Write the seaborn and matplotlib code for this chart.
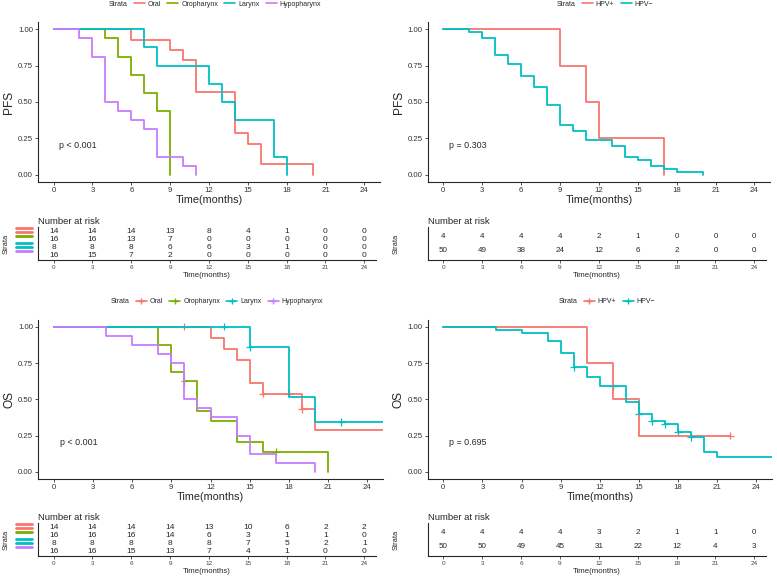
import numpy as np
import pandas as pd
import matplotlib
matplotlib.use('Agg')
import matplotlib.pyplot as plt
import matplotlib.transforms as mtransforms
from matplotlib.lines import Line2D
from matplotlib import font_manager
import seaborn as sns

# ---------------- data ----------------
SITES = ['Oral', 'Oropharynx', 'Larynx', 'Hypopharynx']
HPV = ['HPV+', 'HPV\u2212']
SITE_COLORS = ['#F8766D', '#7CAE00', '#00BFC4', '#C77CFF']
HPV_COLORS = ['#F8766D', '#00BFC4']
RISK_TIMES = [0, 3, 6, 9, 12, 15, 18, 21, 24]

# PFS by site
pfs_oral_t = [0, 6, 9, 10, 11, 14, 15, 16, 20]
pfs_oral_s = [1, 0.929, 0.857, 0.786, 0.571, 0.286, 0.214, 0.071, 0]
pfs_oro_t = [0, 4, 5, 6, 7, 8, 9]
pfs_oro_s = [1, 0.9375, 0.8125, 0.6875, 0.5625, 0.4375, 0]
pfs_lar_t = [0, 7, 8, 12, 13, 14, 17, 18]
pfs_lar_s = [1, 0.875, 0.75, 0.625, 0.5, 0.375, 0.125, 0]
pfs_hyp_t = [0, 2, 3, 4, 5, 6, 7, 8, 10, 11]
pfs_hyp_s = [1, 0.9375, 0.8125, 0.5, 0.4375, 0.375, 0.3125, 0.125, 0.0625, 0]

# PFS by HPV
pfs_pos_t = [0, 9, 11, 12, 17]
pfs_pos_s = [1, 0.75, 0.5, 0.25, 0]
pfs_neg_t = [0, 2, 3, 4, 5, 6, 7, 8, 9, 10, 11, 13, 14, 15, 16, 17, 18, 20]
pfs_neg_s = [1, 0.98, 0.94, 0.82, 0.76, 0.68, 0.60, 0.48, 0.34, 0.30, 0.24,
             0.20, 0.12, 0.10, 0.06, 0.04, 0.02, 0]

# OS by site
os_oral_t = [0, 12, 13, 14, 15, 16, 19, 20, 26]
os_oral_s = [1, 0.923, 0.846, 0.769, 0.615, 0.538, 0.431, 0.287, 0.287]
os_oro_t = [0, 8, 9, 10, 11, 12, 14, 16, 21]
os_oro_s = [1, 0.875, 0.6875, 0.625, 0.417, 0.347, 0.208, 0.139, 0]
os_lar_t = [0, 15, 18, 20, 26]
os_lar_s = [1, 0.857, 0.514, 0.343, 0.343]
os_hyp_t = [0, 4, 6, 8, 9, 10, 11, 12, 14, 15, 17, 20]
os_hyp_s = [1, 0.9375, 0.875, 0.8125, 0.75, 0.5, 0.4375, 0.375, 0.25, 0.125, 0.0625, 0]

# OS by HPV
os_pos_t = [0, 11, 13, 15, 22]
os_pos_s = [1, 0.75, 0.5, 0.25, 0.25]
os_neg_t = [0, 4, 6, 8, 9, 10, 11, 12, 14, 15, 16, 17, 18, 19, 20, 21, 26]
os_neg_s = [1, 0.98, 0.96, 0.90, 0.82, 0.72, 0.656, 0.59, 0.484, 0.40, 0.35,
            0.326, 0.275, 0.24, 0.135, 0.10, 0.10]

# censoring marks (time, survival)
os_oral_cens = [(10, 1.0), (16, 0.538), (18, 0.538), (19, 0.431)]
os_oro_cens = [(10, 0.625), (17, 0.139)]
os_lar_cens = [(13, 1.0), (15, 0.857), (22, 0.343)]
os_pos_cens = [(22, 0.25)]
os_neg_cens = [(10, 0.72), (13, 0.59), (15, 0.40), (16, 0.35), (17, 0.326),
               (18, 0.275), (19, 0.24)]

# number at risk
pfs_site_risk = [[14, 14, 14, 13, 8, 4, 1, 0, 0],
                 [16, 16, 13, 7, 0, 0, 0, 0, 0],
                 [8, 8, 8, 6, 6, 3, 1, 0, 0],
                 [16, 15, 7, 2, 0, 0, 0, 0, 0]]
pfs_hpv_risk = [[4, 4, 4, 4, 2, 1, 0, 0, 0],
                [50, 49, 38, 24, 12, 6, 2, 0, 0]]
os_site_risk = [[14, 14, 14, 14, 13, 10, 6, 2, 2],
                [16, 16, 16, 14, 6, 3, 1, 1, 0],
                [8, 8, 8, 8, 8, 7, 5, 2, 1],
                [16, 16, 15, 13, 7, 4, 1, 0, 0]]
os_hpv_risk = [[4, 4, 4, 4, 3, 2, 1, 1, 0],
               [50, 50, 49, 45, 31, 22, 12, 4, 3]]

# ---------------- style ----------------
sns.set_theme(style='ticks')
plt.rcParams['font.family'] = ['Liberation Sans', 'DejaVu Sans']
plt.rcParams['axes.linewidth'] = 0.8
plt.rcParams['xtick.major.size'] = 2.2
plt.rcParams['ytick.major.size'] = 2.2
plt.rcParams['xtick.major.width'] = 0.6
plt.rcParams['ytick.major.width'] = 0.6

# condensed face for the crowded 4-row tables, if there is one
installed = {f.name for f in font_manager.fontManager.ttflist}
NARROW = 'Liberation Sans Narrow' if 'Liberation Sans Narrow' in installed else 'Liberation Sans'

W, H = 777, 577
fig = plt.figure(figsize=(W / 100, H / 100), dpi=100)


def rect(l, t, r, b):
    return [l / W, 1 - b / H, (r - l) / W, (b - t) / H]


def km_panel(box, curves, names, colors, ylabel, pval, cens=None, legend_x=None):
    ax = fig.add_axes(rect(*box))
    rows = []
    for (t, s), name in zip(curves, names):
        rows += [{'time': a, 'surv': b, 'grp': name} for a, b in zip(t, s)]
    df = pd.DataFrame(rows)
    sns.lineplot(data=df, x='time', y='surv', hue='grp', hue_order=names,
                 palette=colors, drawstyle='steps-post', estimator=None,
                 sort=False, linewidth=1.3, legend=False, ax=ax)
    if cens is not None:
        crow = []
        for pts, name in zip(cens, names):
            crow += [{'time': a, 'surv': b, 'grp': name} for a, b in pts]
        cdf = pd.DataFrame(crow)
        sns.scatterplot(data=cdf, x='time', y='surv', hue='grp', hue_order=names,
                        palette=colors, marker='+', s=28, linewidth=0.9,
                        legend=False, ax=ax)
    ax.set_xlim(-1.2, 25.2)
    ax.set_ylim(-0.05, 1.05)
    ax.set_xticks(RISK_TIMES)
    ax.set_yticks([0, 0.25, 0.5, 0.75, 1.0])
    ax.set_yticklabels(['0.00', '0.25', '0.50', '0.75', '1.00'])
    ax.tick_params(labelsize=5.6, colors='#333333', pad=1.5)
    ax.set_xlabel('Time(months)', fontsize=7.8, labelpad=0.5)
    ax.set_ylabel(ylabel, fontsize=8.6, labelpad=2)
    sns.despine(ax=ax)
    ax.text(0.45, 0.2, pval, fontsize=6.4, ha='left', va='center')

    # legend
    marker = '+' if cens is not None else None
    handles = [Line2D([], [], alpha=0)]
    handles += [Line2D([], [], color=c, lw=1.2, marker=marker, markersize=4)
                for c in colors]
    leg_y = 1 - (box[1] - 18) / H
    fig.legend(handles, ['Strata'] + names, loc='center',
               bbox_to_anchor=(legend_x / W, leg_y), ncol=len(names) + 1,
               frameon=False, fontsize=5.0, handlelength=1.6,
               handletextpad=0.4, columnspacing=0.9)
    return ax


def risk_panel(box, risk, colors):
    ax = fig.add_axes(rect(*box))
    n = len(risk)
    if n > 2:
        fs, fam = 6.0, NARROW
    else:
        fs, fam = 5.8, 'Liberation Sans'
    for i, row in enumerate(risk):
        y = n - i
        for t, v in zip(RISK_TIMES, row):
            ax.text(t, y, str(v), ha='center', va='center', fontsize=fs,
                    family=fam)
    ax.set_xlim(-1.2, 24.9)
    ax.set_ylim(0.4, n + 0.6)
    ax.set_xticks(RISK_TIMES)
    ax.set_yticks([])
    ax.tick_params(axis='x', labelsize=4.6, colors='#444444', pad=1.5)
    ax.set_xlabel('Time(months)', fontsize=5.6, labelpad=1)
    sns.despine(ax=ax)
    # coloured strata keys on the left
    trans = mtransforms.blended_transform_factory(fig.transFigure, ax.transData)
    trans = mtransforms.offset_copy(trans, fig=fig, y=2.9, units='points')
    for i, c in enumerate(colors):
        ax.add_line(Line2D([16 / W, 32 / W], [n - i, n - i], color=c, lw=2.0,
                           transform=trans, clip_on=False))
    ax.text(0, 1.03, 'Number at risk', transform=ax.transAxes, fontsize=6.8,
            ha='left', va='bottom')
    fig.text((box[0] - 32) / W, 1 - (box[1] + box[3]) / 2 / H, 'Strata',
             rotation=90, fontsize=5.4, ha='center', va='center')
    return ax


km_panel((38, 22, 380, 182),
         [(pfs_oral_t, pfs_oral_s), (pfs_oro_t, pfs_oro_s),
          (pfs_lar_t, pfs_lar_s), (pfs_hyp_t, pfs_hyp_s)],
         SITES, SITE_COLORS, 'PFS', 'p < 0.001', legend_x=208)
km_panel((427.7, 22, 770, 182),
         [(pfs_pos_t, pfs_pos_s), (pfs_neg_t, pfs_neg_s)],
         HPV, HPV_COLORS, 'PFS', 'p = 0.303', legend_x=598)
risk_panel((38, 227, 376, 260), pfs_site_risk, SITE_COLORS)
risk_panel((427.7, 227, 766, 260), pfs_hpv_risk, HPV_COLORS)

km_panel((38, 319.5, 383, 479),
         [(os_oral_t, os_oral_s), (os_oro_t, os_oro_s),
          (os_lar_t, os_lar_s), (os_hyp_t, os_hyp_s)],
         SITES, SITE_COLORS, 'OS', 'p < 0.001',
         cens=[os_oral_cens, os_oro_cens, os_lar_cens, []], legend_x=210)
km_panel((427.7, 319.5, 772, 479),
         [(os_pos_t, os_pos_s), (os_neg_t, os_neg_s)],
         HPV, HPV_COLORS, 'OS', 'p = 0.695',
         cens=[os_pos_cens, os_neg_cens], legend_x=600)
risk_panel((38, 523, 376, 556), os_site_risk, SITE_COLORS)
risk_panel((427.7, 523, 766, 556), os_hpv_risk, HPV_COLORS)

fig.savefig('out.png', dpi=100)
